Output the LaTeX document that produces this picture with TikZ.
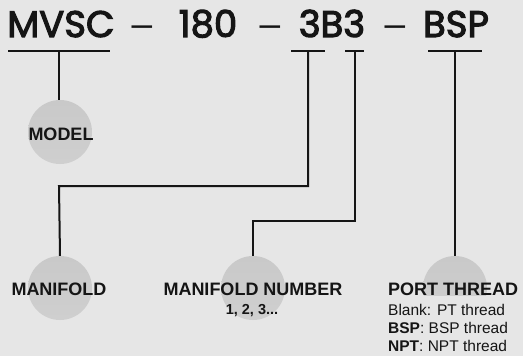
\documentclass[tikz,border=0pt]{standalone}
\usepackage{fontspec}
\setmainfont{Liberation Sans}
\newfontfamily\geo[FakeBold=3]{Poppins}
\definecolor{bg}{HTML}{E6E6E6}
\definecolor{ink}{HTML}{151515}
\definecolor{ballTop}{HTML}{C9C9C9}
\definecolor{ballMid}{HTML}{E8E8E8}
\definecolor{ballBot}{HTML}{CFCFCF}
\begin{document}
\begin{tikzpicture}[x=1pt,y=-1pt,
  top/.style={font=\geo\fontsize{37}{37}\selectfont, inner sep=0pt, anchor=base, text=ink},
  dsh/.style={font=\fontsize{37}{37}\selectfont, inner sep=0pt, anchor=base, text=ink},
  ball/.style={circle, minimum size=64pt, inner sep=0pt, top color=ballTop, middle color=ballMid, bottom color=ballBot},
  lbl/.style={font=\bfseries\fontsize{18}{18}\selectfont, inner sep=0pt, anchor=base, text=ink},
  small/.style={font=\fontsize{15.5}{19}\selectfont, inner sep=0pt, text=ink},
  bar/.style={line width=2.4pt, draw=ink},
  wire/.style={line width=2pt, draw=ink}]
\fill[bg] (0,0) rectangle (523,356);
\useasboundingbox (0,0) rectangle (523,356);

% code string
\node[top] (mvsc) at (61,37) {MVSC};
\node[dsh] (d1) at (142,37) {–};
\node[top] (num) at (208,37) {180};
\node[dsh] (d2) at (270,37) {–};
\node[top] (m3b3) at (332,37) {3B3};
\node[dsh] (d3) at (395,37) {–};
\node[top] (bsp) at (456,37) {BSP};

% underline bars
\coordinate (b1l) at (8,51);   \coordinate (b1r) at (110,51);
\coordinate (b2l) at (291,51); \coordinate (b2r) at (325,51);
\coordinate (b3l) at (345,51); \coordinate (b3r) at (364,51);
\coordinate (b4l) at (428,51); \coordinate (b4r) at (482,51);
\draw[bar] (b1l) -- (b1r);
\draw[bar] (b2l) -- (b2r);
\draw[bar] (b3l) -- (b3r);
\draw[bar] (b4l) -- (b4r);
\coordinate (s1) at (59,51);
\coordinate (s2) at (308,51);
\coordinate (s3) at (355,51);
\coordinate (s4) at (455,51);

% balls
\node[ball] (modelball) at (60,132) {};
\node[ball] (manball) at (60,288) {};
\node[ball] (numball) at (253,288) {};
\node[ball] (portball) at (455,288) {};

% connectors
\draw[wire] (s1) -- (s1 |- modelball.north);
\draw[wire] (s2) |- (59,186) -- (manball.north);
\draw[wire] (s3) |- (253,221) -- (numball.north);
\draw[wire] (s4) -- (portball.north);

% labels
\node[lbl] (model) at (61,140) {MODEL};
\node[lbl] (manifold) at (59,295) {MANIFOLD};
\node[lbl] (mannum) at (253,295) {MANIFOLD NUMBER};
\node[font=\bfseries\fontsize{14.5}{14.5}\selectfont, inner sep=0pt, anchor=base, text=ink] (nums) at (252,314) {1, 2, 3...};

\fill[bg] (386,296) rectangle (523,356);
\node[lbl, anchor=base west] (port) at (388,295) {PORT THREAD};
\node[small, anchor=base west] (t1) at (388,315) {Blank: PT thread};
\node[small, anchor=base west] (t2) at (388,333) {\textbf{BSP}: BSP thread};
\node[small, anchor=base west] (t3) at (388,351) {\textbf{NPT}: NPT thread};
\end{tikzpicture}
\end{document}
